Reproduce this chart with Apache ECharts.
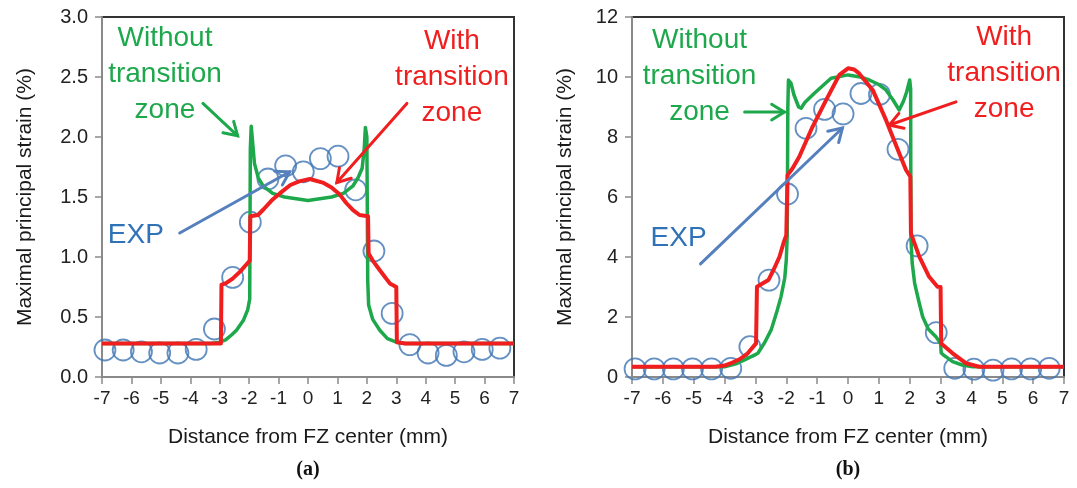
<!DOCTYPE html>
<html>
<head>
<meta charset="utf-8">
<title>Maximal principal strain across the FZ</title>
<script src="https://cdn.jsdelivr.net/npm/echarts@6/dist/echarts.min.js"></script>
<style>
  html, body { margin: 0; padding: 0; background: #fff; }
  #chart { width: 1077px; height: 488px; }
</style>
</head>
<body>
<div id="chart"></div>
<script>
// axis ranges
const xRange = [-7, 7, 1]
const yRangeA = [0, 3, 0.5]
const yRangeB = [0, 12, 2]

// experimental points (distance in mm)
const expX = [-6.9, -6.28, -5.66, -5.04, -4.42, -3.8, -3.18, -2.56, -1.96, -1.36, -0.76, -0.16,
  0.42, 1.02, 1.62, 2.24, 2.86, 3.46, 4.08, 4.7, 5.3, 5.92, 6.52]
const expA = [0.225, 0.225, 0.21, 0.2, 0.2, 0.23, 0.4, 0.83, 1.29, 1.65, 1.76, 1.71,
  1.82, 1.84, 1.56, 1.05, 0.53, 0.27, 0.2, 0.18, 0.21, 0.23, 0.24]
const expB = [0.27, 0.27, 0.27, 0.27, 0.27, 0.29, 1.01, 3.23, 6.1, 8.29, 8.92, 8.77,
  9.45, 9.42, 7.59, 4.37, 1.48, 0.29, 0.26, 0.23, 0.27, 0.27, 0.29]

// (a) simulated curves
const withoutA = [[-7, 0.28], [-3.3, 0.28], [-3.0, 0.29], [-2.8, 0.31], [-2.6, 0.35], [-2.43, 0.39],
  [-2.2, 0.47], [-2.05, 0.56], [-1.98, 0.65], [-1.96, 1.9], [-1.93, 2.09], [-1.89, 1.98], [-1.82, 1.78],
  [-1.69, 1.66], [-1.52, 1.59], [-1.2, 1.53], [-0.8, 1.5], [0, 1.47], [0.8, 1.5], [1.2, 1.53],
  [1.52, 1.59], [1.7, 1.66], [1.84, 1.74], [1.91, 1.9], [1.95, 2.08], [2.0, 2.0], [2.03, 0.8],
  [2.06, 0.6], [2.2, 0.48], [2.44, 0.39], [2.7, 0.32], [3.0, 0.29], [3.3, 0.28], [7, 0.28]]
const withA = [[-7, 0.28], [-2.96, 0.28], [-2.94, 0.77], [-2.8, 0.78], [-2.56, 0.82], [-2.3, 0.88],
  [-2.05, 0.95], [-1.98, 0.97], [-1.96, 1.34], [-1.7, 1.35], [-1.5, 1.4], [-1.2, 1.48], [-0.96, 1.53],
  [-0.6, 1.6], [-0.3, 1.63], [0.06, 1.65], [0.5, 1.62], [0.8, 1.58], [1.08, 1.52], [1.3, 1.45],
  [1.53, 1.39], [1.75, 1.35], [2.04, 1.34], [2.06, 1.03], [2.2, 0.97], [2.44, 0.89], [2.78, 0.78],
  [3.0, 0.75], [3.02, 0.29], [3.3, 0.28], [7, 0.28]]

// (b) simulated curves
const withoutB = [[-7, 0.34], [-4.0, 0.34], [-3.6, 0.45], [-3.25, 0.62], [-2.92, 0.79], [-2.7, 1.15],
  [-2.49, 1.57], [-2.3, 2.2], [-2.17, 2.68], [-2.05, 3.3], [-2.0, 3.9], [-1.97, 4.7], [-1.95, 9.0],
  [-1.93, 9.9], [-1.85, 9.8], [-1.75, 9.4], [-1.6, 9.0], [-1.52, 8.96], [-1.4, 9.15], [-1.09, 9.46],
  [-0.55, 9.96], [0, 10.07], [0.4, 10.0], [0.69, 9.9], [1.0, 9.75], [1.23, 9.57], [1.45, 9.25],
  [1.66, 8.9], [1.8, 9.2], [1.9, 9.5], [2.0, 9.9], [2.03, 9.6], [2.04, 4.6], [2.08, 3.8], [2.16, 3.12],
  [2.3, 2.5], [2.42, 2.01], [2.6, 1.6], [2.85, 1.34], [3.0, 1.12], [3.02, 0.8], [3.1, 0.73],
  [3.39, 0.51], [3.7, 0.4], [4.04, 0.34], [7, 0.34]]
const withB = [[-7, 0.34], [-4.3, 0.34], [-4.0, 0.38], [-3.79, 0.46], [-3.5, 0.6], [-3.25, 0.79],
  [-2.98, 1.12], [-2.95, 3.01], [-2.8, 3.1], [-2.58, 3.23], [-2.4, 3.6], [-2.22, 4.01], [-2.08, 4.5],
  [-2.0, 4.73], [-1.96, 6.73], [-1.8, 6.95], [-1.58, 7.34], [-1.15, 8.34], [-0.71, 9.23],
  [-0.28, 10.07], [0, 10.29], [0.2, 10.25], [0.36, 10.12], [0.8, 9.57], [1.23, 8.57], [1.66, 7.46],
  [1.88, 6.9], [2.02, 6.68], [2.04, 4.79], [2.31, 4.01], [2.63, 3.34], [2.9, 3.01], [3.0, 3.0],
  [3.02, 1.12], [3.39, 0.79], [3.82, 0.46], [4.25, 0.34], [7, 0.34]]

const GREEN = '#1ea84c'
const RED = '#f01e1e'
const FONT = '"Liberation Sans", Arial, sans-serif'

// annotations, in data coordinates of each panel
const labels = [
  { grid: 0, at: [-4.86, 2.52], text: 'Without\ntransition\nzone', color: GREEN },
  { grid: 0, at: [4.89, 2.5], text: 'With\ntransition\nzone', color: RED },
  { grid: 0, at: [-5.85, 1.18], text: 'EXP', color: '#2f72b8' },
  { grid: 1, at: [-4.81, 10.03], text: 'Without\ntransition\nzone', color: GREEN },
  { grid: 1, at: [5.06, 10.13], text: 'With\ntransition\nzone', color: RED },
  { grid: 1, at: [-5.49, 4.63], text: 'EXP', color: '#2f72b8' }
]
const arrows = [
  { grid: 0, from: [-3.57, 2.28], to: [-2.39, 2.01], color: GREEN },
  { grid: 0, from: [3.36, 2.28], to: [0.98, 1.62], color: RED },
  { grid: 0, from: [-4.36, 1.2], to: [-0.62, 1.71], color: '#5580bd' },
  { grid: 1, from: [-3.35, 8.83], to: [-2.06, 8.83], color: GREEN },
  { grid: 1, from: [3.5, 9.17], to: [1.34, 8.4], color: RED },
  { grid: 1, from: [-4.78, 3.77], to: [-0.18, 8.3], color: '#5580bd' }
]

const chart = echarts.init(document.getElementById('chart'))

function xAxis(gridIndex) {
  return {
    type: 'value',
    gridIndex,
    min: xRange[0],
    max: xRange[1],
    interval: xRange[2],
    name: 'Distance from FZ center (mm)',
    nameLocation: 'middle',
    nameGap: 50,
    nameTextStyle: { fontFamily: FONT, fontSize: 21, color: '#1a1a1a' },
    splitLine: { show: false },
    axisLine: { onZero: false, lineStyle: { color: '#8a8a8a', width: 2 } },
    axisTick: { inside: false, length: 7, lineStyle: { color: '#8a8a8a', width: 1.5 } },
    axisLabel: { fontFamily: FONT, fontSize: 19, color: '#222', margin: 12 }
  }
}

function yAxis(gridIndex, range, digits, gap) {
  return {
    type: 'value',
    gridIndex,
    min: range[0],
    max: range[1],
    interval: range[2],
    name: 'Maximal principal strain (%)',
    nameLocation: 'middle',
    nameGap: gap,
    nameTextStyle: { fontFamily: FONT, fontSize: 21, color: '#1a1a1a' },
    splitLine: { show: false },
    axisLine: { show: true, onZero: false, lineStyle: { color: '#8a8a8a', width: 2 } },
    axisTick: { show: true, inside: false, length: 7, lineStyle: { color: '#8a8a8a', width: 1.5 } },
    axisLabel: {
      fontFamily: FONT, fontSize: 20, color: '#222', margin: 14,
      formatter: (v) => v.toFixed(digits)
    }
  }
}

function lineSeries(idx, data, color, width) {
  return {
    type: 'line', xAxisIndex: idx, yAxisIndex: idx, data,
    showSymbol: false, symbol: 'none', silent: true, animation: false,
    lineStyle: { color, width, join: 'round' }
  }
}

function expSeries(idx, values) {
  return {
    type: 'scatter', xAxisIndex: idx, yAxisIndex: idx,
    data: expX.map((x, i) => [x, values[i]]),
    symbol: 'circle', symbolSize: 21, animation: false,
    itemStyle: { color: 'rgba(255,255,255,0)', borderColor: '#3f74b3', borderWidth: 1.8 }
  }
}

const gridBox = { show: true, borderColor: '#333', borderWidth: 2, backgroundColor: 'transparent' }

chart.setOption({
  animation: false,
  textStyle: { fontFamily: FONT },
  grid: [
    { ...gridBox, left: 102, top: 17, width: 412, height: 360 },
    { ...gridBox, left: 632, top: 17, width: 432, height: 360 }
  ],
  xAxis: [xAxis(0), xAxis(1)],
  yAxis: [yAxis(0, yRangeA, 1, 66), yAxis(1, yRangeB, 0, 56)],
  series: [
    expSeries(0, expA),
    lineSeries(0, withoutA, GREEN, 3.5),
    lineSeries(0, withA, RED, 4),
    expSeries(1, expB),
    lineSeries(1, withoutB, GREEN, 3.5),
    lineSeries(1, withB, RED, 4)
  ]
})

function arrowGraphic(a) {
  const p0 = chart.convertToPixel({ gridIndex: a.grid }, a.from)
  const p1 = chart.convertToPixel({ gridIndex: a.grid }, a.to)
  const ang = Math.atan2(p1[1] - p0[1], p1[0] - p0[0])
  const head = 15
  const spread = 0.55
  const h1 = [p1[0] - head * Math.cos(ang - spread), p1[1] - head * Math.sin(ang - spread)]
  const h2 = [p1[0] - head * Math.cos(ang + spread), p1[1] - head * Math.sin(ang + spread)]
  const style = { stroke: a.color, lineWidth: 3, fill: null, lineCap: 'round', lineJoin: 'miter' }
  return [
    { type: 'polyline', shape: { points: [p0, p1] }, style, z: 10 },
    { type: 'polyline', shape: { points: [h1, p1, h2] }, style, z: 10 }
  ]
}

function labelGraphic(l) {
  const p = chart.convertToPixel({ gridIndex: l.grid }, l.at)
  return {
    type: 'text', x: p[0], y: p[1], z: 10,
    style: {
      text: l.text, fill: l.color, font: '28px ' + FONT,
      align: 'center', verticalAlign: 'middle', lineHeight: 36
    }
  }
}

chart.setOption({
  graphic: [
    ...arrows.flatMap(arrowGraphic),
    ...labels.map(labelGraphic),
    { type: 'text', x: 308, y: 470, style: { text: '(a)', font: 'bold 20px "Liberation Serif", serif', fill: '#111', align: 'center', verticalAlign: 'middle' } },
    { type: 'text', x: 848, y: 470, style: { text: '(b)', font: 'bold 20px "Liberation Serif", serif', fill: '#111', align: 'center', verticalAlign: 'middle' } }
  ]
})
</script>
</body>
</html>
